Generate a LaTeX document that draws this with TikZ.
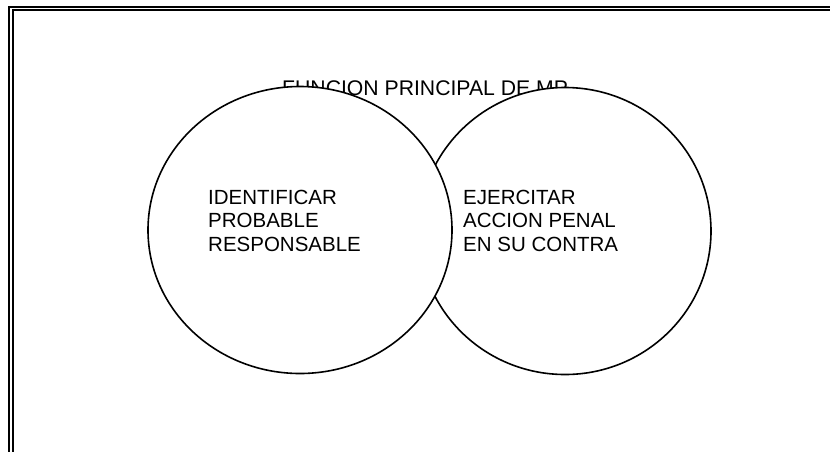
\documentclass[tikz,border=0pt]{standalone}
\usepackage{fontspec}
\setmainfont{Liberation Sans}
\usetikzlibrary{shapes.geometric}
\begin{document}
\begin{tikzpicture}[x=1pt,y=-1pt,
  lbl/.style={inner sep=0pt,font=\fontsize{20.5}{23.3}\selectfont},
  circ/.style={draw=black,line width=1.6pt,fill=white,ellipse,inner sep=0pt}]
\useasboundingbox (0,0) rectangle (830,451);
\begin{scope}
\clip (0,0) rectangle (830,451);
\draw[line width=2.2pt] (9,470) -- (9,7) -- (850,7);
\draw[line width=1.8pt] (12.7,470) -- (12.7,10) -- (850,10);
\end{scope}
\node[lbl,anchor=base west,font=\fontsize{21.2}{24}\selectfont] (title) at (282,95) {FUNCION PRINCIPAL DE MP};
\node[circ,minimum width=292pt,minimum height=287pt] (right) at (565,231) {};
\node[circ,minimum width=304pt,minimum height=287pt] (left) at (300,230) {};
\node[lbl,anchor=north west,align=left] (ltext) at (208,190) {IDENTIFICAR\\PROBABLE\\RESPONSABLE};
\node[lbl,anchor=north west,align=left] (rtext) at (463,190) {EJERCITAR\\ACCION PENAL\\EN SU CONTRA};
\end{tikzpicture}
\end{document}
